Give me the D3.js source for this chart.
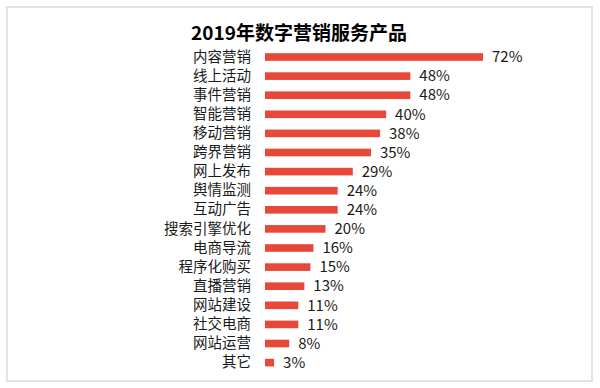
<!DOCTYPE html>
<html>
  <head>
    <meta charset="utf-8" />
    <script type="text/javascript" src="https://cdn.jsdelivr.net/npm/d3@7"></script>
    <style>
      body { margin: 0; background: #fff; }
      text { font-family: "Noto Sans CJK SC", "Noto Sans", sans-serif; fill: #1a1a1a; }
    </style>
  </head>
  <body>
    <script type="text/javascript">
      const title = "2019年数字营销服务产品";
      const categories = ["内容营销", "线上活动", "事件营销", "智能营销", "移动营销", "跨界营销", "网上发布",
        "舆情监测", "互动广告", "搜索引擎优化", "电商导流", "程序化购买", "直播营销", "网站建设",
        "社交电商", "网站运营", "其它"];
      const values = [72, 48, 48, 40, 38, 35, 29, 24, 24, 20, 16, 15, 13, 11, 11, 8, 3];

      const width = 600, height = 388;

      const svg = d3.select("body").append("svg")
        .attr("width", width)
        .attr("height", height);

      // frame
      svg.append("rect")
        .attr("x", 7).attr("y", 7)
        .attr("width", 585).attr("height", 374)
        .attr("fill", "#fff")
        .attr("stroke", "#e2e2e2")
        .attr("stroke-width", 2);

      svg.append("text")
        .attr("x", 299).attr("y", 40)
        .attr("text-anchor", "middle")
        .style("font-size", "19px")
        .style("font-weight", "bold")
        .style("fill", "#000")
        .text(title);

      const x = d3.scaleLinear().domain([0, 72]).range([265, 483]);
      const y = d3.scaleBand().domain(categories)
        .range([47.45, 372.15])
        .paddingInner(0.6)
        .paddingOuter(0.3);

      // bars
      svg.selectAll("rect.bar")
        .data(values)
        .enter()
        .append("rect")
        .attr("class", "bar")
        .attr("x", x(0))
        .attr("y", function (d, i) { return y(categories[i]); })
        .attr("width", function (d) { return x(d) - x(0); })
        .attr("height", y.bandwidth())
        .attr("fill", "#e8483a");

      // category labels
      const yAxis = d3.axisLeft(y).tickSize(0).tickPadding(0);
      const ag = svg.append("g")
        .attr("transform", "translate(251,0)")
        .call(yAxis);
      ag.select(".domain").remove();
      ag.selectAll("text")
        .style("font-size", "14.5px")
        .style("font-family", "'Noto Sans CJK SC', sans-serif")
        .attr("fill", "#1a1a1a");

      // value labels
      svg.selectAll("text.val")
        .data(values)
        .enter()
        .append("text")
        .attr("class", "val")
        .attr("x", function (d) { return x(d) + 9; })
        .attr("y", function (d, i) { return y(categories[i]) + y.bandwidth() / 2; })
        .attr("dy", "0.35em")
        .style("font-size", "15px")
        .text(function (d) { return d + "%"; });
    </script>
  </body>
</html>
